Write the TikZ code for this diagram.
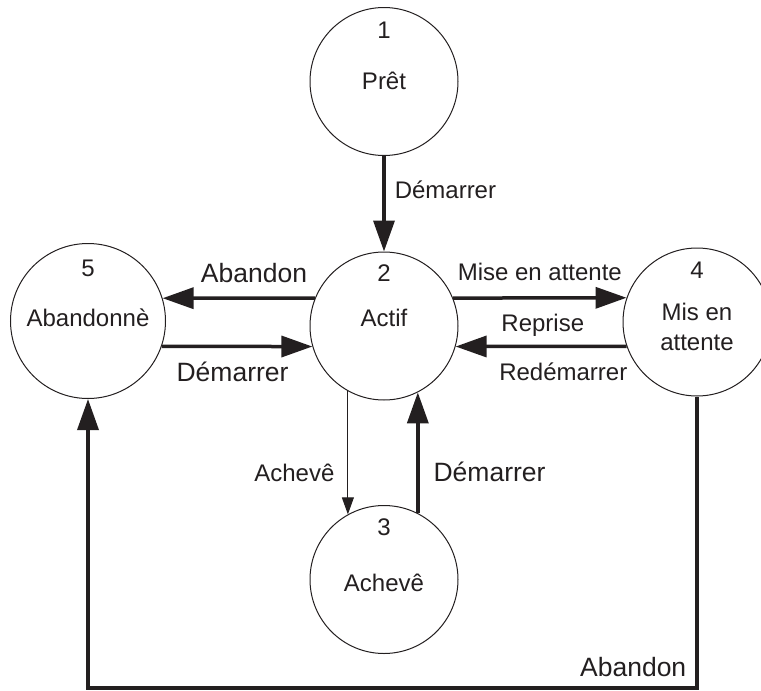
\documentclass[tikz,border=0pt]{standalone}
\usepackage{fontspec}
\setmainfont{Liberation Sans}
\usepackage{tikz}
\usetikzlibrary{arrows.meta,positioning,calc}
\definecolor{ink}{RGB}{35,31,32}

\begin{document}
\begin{tikzpicture}[x=1pt, y=-1pt,
    state/.style={draw=ink, line width=1pt, circle, inner sep=0pt, minimum size=148pt},
    statenum/.style={text=ink, font=\fontsize{24}{28}\selectfont, anchor=base, inner sep=0pt},
    statename/.style={text=ink, font=\fontsize{24}{30}\selectfont, anchor=base, inner sep=0pt, align=center},
    lbl/.style={text=ink, font=\fontsize{24}{28}\selectfont, inner sep=0pt, anchor=base},
    biglbl/.style={lbl, font=\fontsize{26.5}{30}\selectfont},
    thickarrow/.style={draw=ink, line width=3.5pt, -{Triangle[length=31pt,width=21pt]}},
    thinarrow/.style={draw=ink, line width=1pt, -{Triangle[length=17pt,width=12pt]}}]
    \useasboundingbox (0,0) rectangle (761,691);

    % States
    \node[state] (s1) at (384,81.5) {};
    \node[state] (s2) at (384,326) {};
    \node[state] (s3) at (384,579.5) {};
    \node[state] (s4) at (697,322) {};
    \node[state, minimum size=155pt] (s5) at (88,321) {};

    % Numbers
    \node[statenum] (n1) at ($(s1)+(0,-43)$) {1};
    \node[statenum] (n2) at ($(s2)+(0,-45)$) {2};
    \node[statenum] (n3) at ($(s3)+(0,-44)$) {3};
    \node[statenum] (n4) at ($(s4)+(0,-43.5)$) {4};
    \node[statenum] (n5) at ($(s5)+(0,-45)$) {5};

    % Names
    \node[statename] (t1) at ($(s1)+(0,8)$) {Prêt};
    \node[statename] (t2) at (s2) {Actif};
    \node[statename] (t3) at ($(s3)+(0,12)$) {Achevê};
    \node[statename, anchor=center] (t4) at ($(s4)+(0,5)$) {Mis en\\attente};
    \node[statename] (t5) at ($(s5)+(0,5)$) {Abandonnè};

    % Transitions
    \draw[thickarrow] (s1.south) -- node[lbl, pos=.45, anchor=base west, xshift=9pt] {Démarrer} (s2.north);
    \draw[thickarrow] (s2.158) -- node[biglbl, pos=.40, yshift=15.5pt] {Abandon} (s5.17);
    \draw[thickarrow] (s5.341) -- node[biglbl, pos=.47, yshift=-35.5pt] {Démarrer} (s2.196);
    \draw[thickarrow] (s2.22) -- node[lbl, pos=.50, yshift=17.4pt] {Mise en attente} (s4.161);
    \draw[thickarrow] (s4.199) -- node[lbl, pos=.49, yshift=14.4pt] {Reprise}
        node[lbl, pos=.37, yshift=-34.6pt] {Redémarrer} (s2.344);
    \draw[thinarrow] (s2.241) -- node[lbl, pos=.73, anchor=base east, xshift=-13pt] {Achevê} (s3.119);
    \draw[thickarrow] (s3.63) -- node[biglbl, pos=.26, anchor=base west, xshift=14pt] {Démarrer} (s2.297);

    % Abandon from waiting state
    \coordinate (floor) at (0,688);
    \draw[thickarrow] (s4.south) -- node[biglbl, pos=.96, anchor=base east, xshift=-9pt] {Abandon}
        (s4.south |- floor) -| (s5.south);
\end{tikzpicture}
\end{document}
